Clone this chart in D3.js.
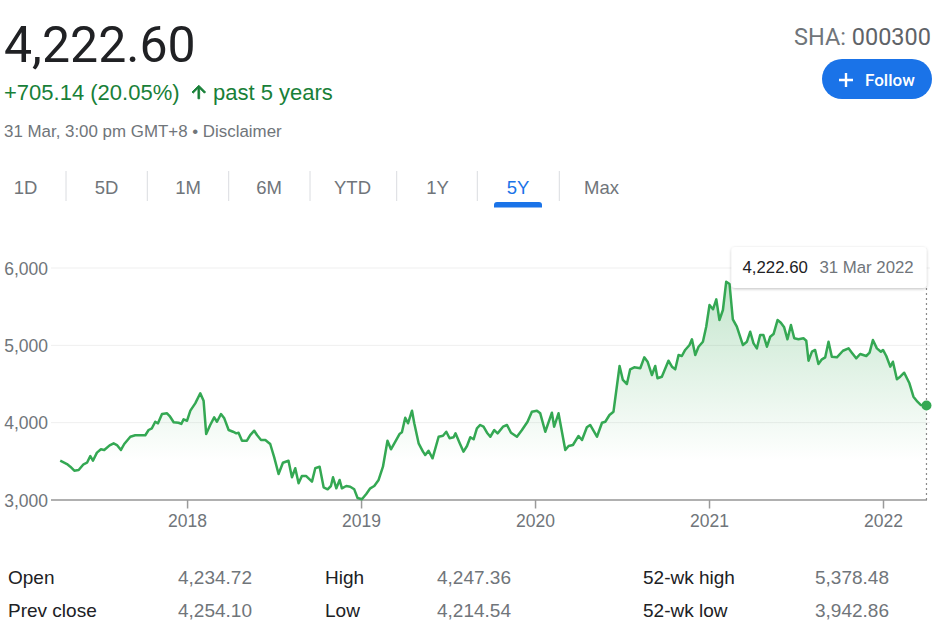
<!DOCTYPE html>
<html>
<head>
<meta charset="utf-8">
<script src="https://cdn.jsdelivr.net/npm/d3@7/dist/d3.min.js"></script>
<style>
  html, body { margin: 0; padding: 0; background: #fff; }
  svg { display: block; }
  text { font-family: Arial, "Liberation Sans", sans-serif; }
</style>
</head>
<body>
<svg id="chart" width="940" height="632"></svg>
<script>
// ---------- data ----------
const years = [
2017.268,2017.307,2017.326,2017.349,2017.374,2017.402,2017.422,2017.441,2017.456,2017.479,
2017.502,2017.521,2017.552,2017.575,2017.594,2017.617,2017.636,2017.671,2017.699,2017.757,
2017.776,2017.795,2017.814,2017.830,2017.853,2017.882,2017.897,2017.920,2017.948,2017.964,
2017.977,2017.997,2018.016,2018.044,2018.073,2018.092,2018.107,2018.130,2018.153,2018.169,
2018.192,2018.211,2018.236,2018.261,2018.280,2018.293,2018.313,2018.341,2018.360,2018.383,
2018.399,2018.422,2018.447,2018.466,2018.475,2018.498,2018.523,2018.548,2018.580,2018.600,
2018.619,2018.638,2018.657,2018.682,2018.715,2018.734,2018.759,2018.782,2018.805,2018.824,
2018.836,2018.855,2018.874,2018.887,2018.912,2018.935,2018.958,2018.977,2019.002,2019.027,
2019.050,2019.073,2019.098,2019.123,2019.149,2019.169,2019.194,2019.218,2019.232,2019.251,
2019.267,2019.290,2019.303,2019.328,2019.353,2019.366,2019.385,2019.408,2019.443,2019.468,
2019.487,2019.506,2019.529,2019.540,2019.563,2019.586,2019.606,2019.625,2019.644,2019.663,
2019.682,2019.701,2019.721,2019.740,2019.763,2019.782,2019.813,2019.836,2019.859,2019.893,
2019.922,2019.954,2019.979,2020.008,2020.027,2020.056,2020.094,2020.107,2020.132,2020.171,
2020.190,2020.215,2020.247,2020.267,2020.295,2020.314,2020.353,2020.382,2020.401,2020.425,
2020.448,2020.483,2020.502,2020.525,2020.544,2020.567,2020.602,2020.625,2020.644,2020.669,
2020.688,2020.701,2020.726,2020.764,2020.784,2020.803,2020.822,2020.841,2020.860,2020.885,
2020.899,2020.918,2020.937,2020.962,2020.981,2021.000,2021.020,2021.039,2021.057,2021.077,
2021.096,2021.115,2021.134,2021.157,2021.192,2021.215,2021.234,2021.253,2021.272,2021.291,
2021.310,2021.330,2021.349,2021.368,2021.391,2021.410,2021.429,2021.448,2021.468,2021.487,
2021.511,2021.540,2021.556,2021.569,2021.589,2021.607,2021.626,2021.646,2021.665,2021.684,
2021.703,2021.732,2021.767,2021.799,2021.818,2021.843,2021.866,2021.901,2021.920,2021.939,
2021.962,2021.985,2021.997,2022.016,2022.039,2022.054,2022.077,2022.096,2022.119,2022.149,
2022.172,2022.195,2022.215,2022.247
];
const values = [
3508,3465,3431,3379,3388,3462,3482,3569,3508,3612,
3656,3647,3707,3733,3711,3647,3724,3818,3837,3837,
3905,3927,4012,3992,4112,4121,4086,4005,3999,3983,
4043,4025,4155,4250,4380,4284,3853,3970,4069,4012,
4112,4056,3905,3883,3862,3870,3767,3767,3840,3896,
3840,3776,3776,3741,3724,3552,3336,3482,3508,3294,
3410,3216,3310,3310,3237,3410,3431,3164,3138,3181,
3294,3151,3259,3151,3181,3172,3138,3026,3009,3078,
3151,3181,3259,3431,3767,3656,3754,3853,3875,4064,
3992,4155,3992,3733,3625,3582,3637,3539,3818,3831,
3883,3798,3811,3862,3741,3625,3698,3811,3785,3927,
3970,3948,3870,3818,3905,3862,3948,3970,3870,3818,
3905,4012,4142,4155,4121,3883,4129,3948,4121,3647,
3698,3711,3828,3776,3940,3970,3818,3999,4012,4099,
4142,4733,4552,4500,4690,4716,4703,4845,4788,4616,
4733,4574,4594,4801,4724,4690,4875,4862,4940,5004,
5078,4875,4982,5047,5241,5521,5466,5595,5327,5457,
5823,5793,5336,5241,5004,5047,5176,5026,4961,5133,
5133,4982,5111,5146,5327,5292,5233,5078,5263,5091,
5078,5091,5060,4801,4918,4940,4758,4819,4845,5047,
4853,4845,4930,4961,4905,4832,4888,4862,4905,5069,
4961,4918,4940,4862,4724,4788,4561,4594,4646,4509,
4336,4271,4228,4222.60
];
const yTicks = [3000, 4000, 5000, 6000];
const xTicks = [2018, 2019, 2020, 2021, 2022];
const tabs = ["1D", "5D", "1M", "6M", "YTD", "1Y", "5Y", "Max"];
const activeTab = "5Y";
const priceText = "4,222.60";
const changeText = "+705.14 (20.05%)";
const periodText = "past 5 years";
const metaText = "31 Mar, 3:00 pm GMT+8 \u2022 Disclaimer";
const exchange = "SHA:";
const ticker = "000300";
const tooltipValue = "4,222.60";
const tooltipDate = "31 Mar 2022";
const statLabels = [["Open", "Prev close"], ["High", "Low"], ["52-wk high", "52-wk low"]];
const statValues = [["4,234.72", "4,254.10"], ["4,247.36", "4,214.54"], ["5,378.48", "3,942.86"]];

// ---------- drawing ----------
const svg = d3.select("#chart");
const GREEN = "#34a853";
const GRAY = "#70757a";

const data = years.map((t, i) => ({ t, v: values[i] }));

const x = d3.scaleLinear().domain([2017.215, 2022.25]).range([51, 927]);
const y = d3.scaleLinear().domain([3000, 6000]).range([500, 268]);

// header
svg.append("text").attr("x", 4).attr("y", 62)
  .style("font-family", "Roboto, sans-serif").style("font-size", "50px")
  .attr("fill", "#202124").text(priceText);

svg.append("text").attr("x", 4).attr("y", 100)
  .style("font-size", "22px").attr("fill", "#188038").text(changeText);
svg.append("path")
  .attr("d", "M4 12l1.41 1.41L11 7.83V20h2V7.83l5.58 5.59L20 12l-8-8-8 8z")
  .attr("transform", "translate(188.6,81.8) scale(0.85)")
  .attr("fill", "#188038").attr("stroke", "#188038").attr("stroke-width", 1)
  .attr("stroke-linejoin", "round");
svg.append("text").attr("x", 213).attr("y", 100)
  .style("font-size", "22px").attr("fill", "#188038").text(periodText);

svg.append("text").attr("x", 4).attr("y", 137)
  .style("font-size", "16.9px").attr("fill", GRAY).text(metaText);

const sha = svg.append("text").attr("x", 931).attr("y", 45).attr("text-anchor", "end")
  .style("font-family", "Roboto, sans-serif").style("font-size", "23.5px");
sha.append("tspan").attr("fill", GRAY).text(exchange + " ");
sha.append("tspan").attr("fill", "#5f6368").text(ticker);

// follow button
svg.append("rect").attr("x", 822).attr("y", 59).attr("width", 110).attr("height", 40)
  .attr("rx", 20).attr("fill", "#1a73e8");
svg.append("path").attr("d", "M846 73 V87 M839 80 H853")
  .attr("stroke", "#fff").attr("stroke-width", 2.4).attr("fill", "none");
svg.append("text").attr("x", 865).attr("y", 86)
  .style("font-family", "Roboto, sans-serif").style("font-size", "17px").style("font-weight", 500)
  .attr("fill", "#fff").text("Follow");

// tabs
const tabCenters = [25.5, 106.5, 188, 269, 352.5, 437.5, 518, 601.5];
const sepX = [66, 147.3, 228.7, 310, 396.7, 477.3, 559.3];
sepX.forEach(sx => {
  svg.append("line").attr("x1", sx).attr("x2", sx).attr("y1", 171).attr("y2", 201)
    .attr("stroke", "#dadce0").attr("stroke-width", 1);
});
tabs.forEach((t, i) => {
  svg.append("text").attr("x", tabCenters[i]).attr("y", 194).attr("text-anchor", "middle")
    .style("font-size", "18.5px")
    .attr("fill", t === activeTab ? "#1a73e8" : GRAY).text(t);
  if (t === activeTab) {
    svg.append("path")
      .attr("d", `M${tabCenters[i] - 24} 207.5 V205 a3 3 0 0 1 3 -3 H${tabCenters[i] + 21} a3 3 0 0 1 3 3 V207.5 Z`)
      .attr("fill", "#1a73e8");
  }
});

// gradient
const defs = svg.append("defs");
const grad = defs.append("linearGradient").attr("id", "fillGrad")
  .attr("gradientUnits", "userSpaceOnUse")
  .attr("x1", 0).attr("x2", 0).attr("y1", y(5900)).attr("y2", y(3500));
grad.append("stop").attr("offset", "0%").attr("stop-color", GREEN).attr("stop-opacity", 0.3);
grad.append("stop").attr("offset", "100%").attr("stop-color", GREEN).attr("stop-opacity", 0);
const sh = defs.append("filter").attr("id", "shadow").attr("x", "-10%").attr("y", "-30%")
  .attr("width", "120%").attr("height", "170%");
sh.append("feDropShadow").attr("dx", 0).attr("dy", 1).attr("stdDeviation", 1.5)
  .attr("flood-color", "#000").attr("flood-opacity", 0.25);

// grid
yTicks.filter(v => v !== 3000).forEach(v => {
  svg.append("line").attr("x1", 51).attr("x2", 930).attr("y1", y(v)).attr("y2", y(v))
    .attr("stroke", "#efefef").attr("stroke-width", 1);
});
yTicks.forEach(v => {
  svg.append("text").attr("x", 48).attr("y", y(v) + 6.5).attr("text-anchor", "end")
    .style("font-size", "17.5px").attr("fill", GRAY).text(d3.format(",")(v));
});

// area
const area = d3.area().x(d => x(d.t)).y0(y(3000)).y1(d => y(d.v));
svg.append("path").datum(data).attr("d", area).attr("fill", "url(#fillGrad)");

// x axis
svg.append("line").attr("x1", 51).attr("x2", 927).attr("y1", y(3000)).attr("y2", y(3000))
  .attr("stroke", "#b0b0b0").attr("stroke-width", 2);
xTicks.forEach(t => {
  svg.append("line").attr("x1", x(t)).attr("x2", x(t)).attr("y1", 500).attr("y2", 508.5)
    .attr("stroke", "#9a9a9a").attr("stroke-width", 1.5);
  svg.append("text").attr("x", x(t)).attr("y", 527).attr("text-anchor", "middle")
    .style("font-size", "17.5px").attr("fill", GRAY).text(t);
});

// line
const line = d3.line().x(d => x(d.t)).y(d => y(d.v));
svg.append("path").datum(data).attr("d", line).attr("fill", "none")
  .attr("stroke", GREEN).attr("stroke-width", 2.5).attr("stroke-linejoin", "round");

// tooltip + marker
const last = data[data.length - 1];
const lx = x(last.t), ly = y(last.v);
svg.append("line").attr("x1", lx).attr("x2", lx).attr("y1", 288).attr("y2", 500)
  .attr("stroke", "#8a8a8a").attr("stroke-width", 1.2).attr("stroke-dasharray", "2,3");
svg.append("circle").attr("cx", lx).attr("cy", ly).attr("r", 5).attr("fill", GREEN);
svg.append("rect").attr("x", lx - 195).attr("y", 247).attr("width", 195).attr("height", 41)
  .attr("rx", 4).attr("fill", "#fff").attr("filter", "url(#shadow)");
svg.append("text").attr("x", lx - 184).attr("y", 273)
  .style("font-size", "16.8px").attr("fill", "#202124").text(tooltipValue);
svg.append("text").attr("x", lx - 107).attr("y", 273)
  .style("font-size", "16.8px").attr("fill", GRAY).text(tooltipDate);

// stats table
const labelX = [8, 325, 643];
const valueX = [178, 437, 815];
const rowY = [584, 617];
statLabels.forEach((col, c) => {
  col.forEach((lab, r) => {
    svg.append("text").attr("x", labelX[c]).attr("y", rowY[r])
      .style("font-size", "19px").attr("fill", "#202124").text(lab);
    svg.append("text").attr("x", valueX[c]).attr("y", rowY[r])
      .style("font-size", "19px").attr("fill", GRAY).text(statValues[c][r]);
  });
});
</script>
</body>
</html>
